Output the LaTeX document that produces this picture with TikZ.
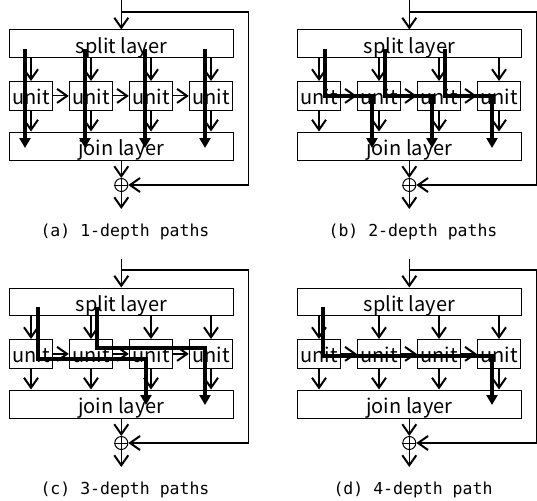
\documentclass[tikz,border=0pt]{standalone}
\usepackage{fontspec}
\newfontfamily\labfont{Noto Sans CJK JP}
\newfontfamily\capfont{DejaVu Sans Mono}
\usetikzlibrary{arrows.meta,calc}
\tikzset{
  box/.style={draw, line width=1pt, inner sep=0pt, text depth=0pt, font=\labfont\fontsize{20}{20}\selectfont},
  unitbox/.style={box, minimum width=43.4pt, minimum height=28.8pt, text height=17.6pt},
  layerbox/.style={box, minimum width=224pt, minimum height=27.5pt},
  thinarrow/.style={line width=1.2pt, -{Straight Barb[length=10pt,width=14pt,line width=2pt]}},
  patharrow/.style={line width=4pt, line join=miter, -{Triangle[length=10pt,width=11pt]}},
  captext/.style={font=\capfont\fontsize{16.5}{16.5}\selectfont, anchor=base},
  plusnode/.style={circle, draw, line width=1pt, minimum size=13pt, inner sep=0pt},
}
\newcommand\drawpanel[4]{%
  \begin{scope}[shift={(#2,#3)}]
    \node[layerbox, text height=19pt] (#1s) at (121.3,43.75) {split layer};
    \node[layerbox, text height=19.2pt, minimum height=28.3pt] (#1j) at (121.3,146.15) {join layer};
    \foreach \k/\cx in {1/31,2/91,3/151,4/211} {
      \node[unitbox] (#1u\k) at (\cx,95.9) {unit};
      \draw[thinarrow] (#1s.south -| #1u\k.north) -- (#1u\k.north);
      \draw[thinarrow] (#1u\k.south) -- (#1j.north -| #1u\k.south);
    }
    \foreach \k/\n in {1/2,2/3,3/4} {
      \draw[thinarrow] (#1u\k.east) -- (#1u\n.west);
    }
    \coordinate (#1top) at (121.3,0.5);
    \coordinate (#1fb) at (121.3,12);
    \coordinate (#1fr) at (248.5,12);
    \coordinate (#1out) at (121.3,209);
    \node[plusnode] (#1c) at (121.3,185) {};
    \draw[line width=1pt] (#1c.north) -- (#1c.south) (#1c.west) -- (#1c.east);
    \draw[thinarrow] (#1top) -- (#1s.north);
    \draw[thinarrow] (#1fb) -- (#1fr) |- (#1c.east);
    \draw[thinarrow] (#1j.south) -- (#1c.north);
    \draw[thinarrow] (#1c.south) -- (#1out);
    \node[captext] (#1cap) at (125,236) {#4};
  \end{scope}}
\begin{document}
\begin{tikzpicture}[x=1pt,y=-1pt]
  \useasboundingbox (0,0) rectangle (537,500);
  \drawpanel{a}{0}{0}{(a) 1-depth paths}
  \drawpanel{b}{288}{0}{(b) 2-depth paths}
  \drawpanel{c}{0}{258}{(c) 3-depth paths}
  \drawpanel{d}{288}{258}{(d) 4-depth path}
  % (a) 1-depth paths
  \begin{scope}[shift={(0,0)}]
    \foreach \x in {25,85,145,205} {
      \draw[patharrow] (\x,49) -- (\x,148);
    }
  \end{scope}
  % (b) 2-depth paths
  \begin{scope}[shift={(288,0)}]
    \draw[patharrow] (37,49) -- (37,96) -- (84,96) -- (84,148);
    \draw[patharrow] (97,49) -- (97,96) -- (144,96) -- (144,148);
    \draw[patharrow] (157,49) -- (157,96) -- (204,96) -- (204,148);
  \end{scope}
  % (c) 3-depth paths
  \begin{scope}[shift={(0,258)}]
    \draw[patharrow] (38,49) -- (38,101) -- (146,101) -- (146,147);
    \draw[patharrow] (97,49) -- (97,90) -- (205,90) -- (205,147);
  \end{scope}
  % (d) 4-depth path
  \begin{scope}[shift={(288,258)}]
    \draw[patharrow] (35,49) -- (35,98) -- (204,98) -- (204,147);
  \end{scope}
\end{tikzpicture}
\end{document}
